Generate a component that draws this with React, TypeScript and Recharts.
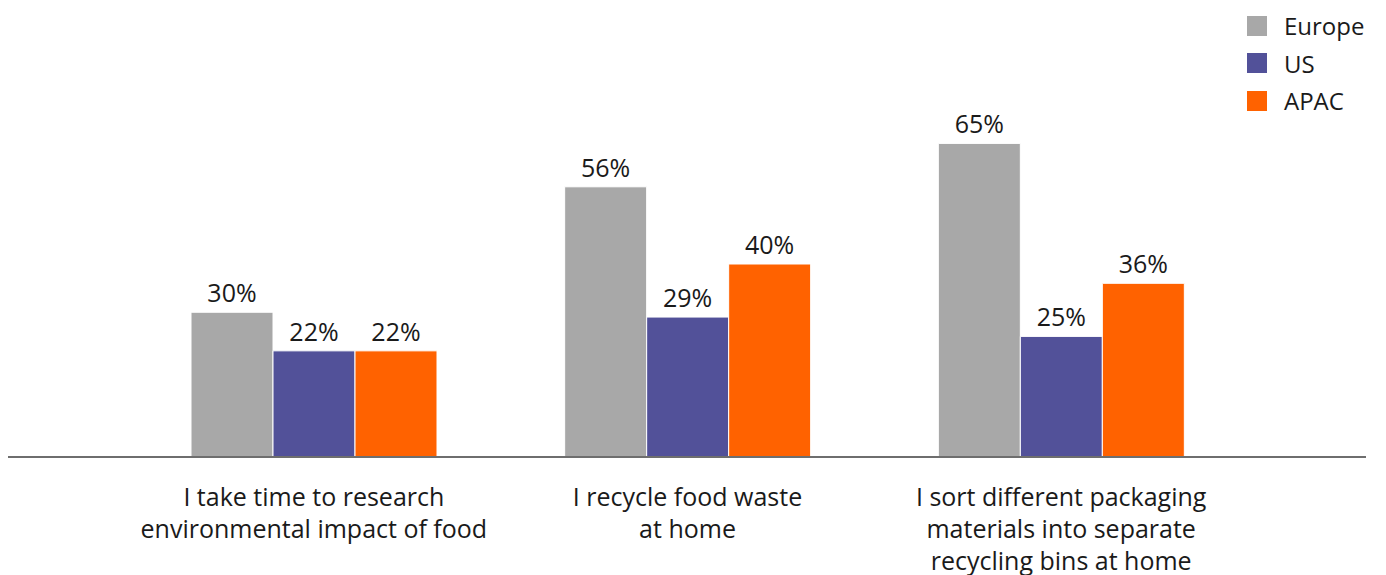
import { BarChart, Bar, XAxis, YAxis, LabelList } from 'recharts';

const categories = [
  'I take time to research\nenvironmental impact of food',
  'I recycle food waste\nat home',
  'I sort different packaging\nmaterials into separate\nrecycling bins at home',
];
const europe = [30, 56, 65];
const us = [22, 29, 25];
const apac = [22, 40, 36];

const seriesNames = ['Europe', 'US', 'APAC'];
const seriesColors = ['#A8A8A8', '#525199', '#FF6200'];

const data = categories.map((name, i) => ({
  name,
  Europe: europe[i],
  US: us[i],
  APAC: apac[i],
}));

const FONT = '"Open Sans", sans-serif';

function CategoryTick(props: any) {
  const { x, y, payload } = props;
  const lines = String(payload.value).split('\n');
  return (
    <g transform={`translate(${x},${y})`}>
      {lines.map((line: string, i: number) => (
        <text
          key={i}
          x={0}
          y={41 + i * 32}
          textAnchor="middle"
          fontSize={25}
          fontFamily={FONT}
          fill="#1a1a1a"
        >
          {line}
        </text>
      ))}
    </g>
  );
}

function Legend() {
  return (
    <div style={{ position: 'absolute', left: 1247, top: 7 }}>
      {seriesNames.map((name, i) => (
        <div
          key={name}
          style={{ display: 'flex', alignItems: 'center', height: 37.5 }}
        >
          <div
            style={{
              width: 20,
              height: 20,
              background: seriesColors[i],
              marginRight: 17,
            }}
          />
          <span
            style={{
              fontFamily: FONT,
              fontSize: 24,
              color: '#1a1a1a',
            }}
          >
            {name}
          </span>
        </div>
      ))}
    </div>
  );
}

export default function App() {
  return (
    <div style={{ position: 'absolute', left: 0, top: 0, width: 1386, height: 575, background: '#fff' }}>
      <BarChart
        width={1386}
        height={575}
        data={data}
        margin={{ top: 71, right: 20, left: 8, bottom: 88 }}
        barGap={0}
      >
        <XAxis
          dataKey="name"
          interval={0}
          padding={{ left: 119, right: 118 }}
          axisLine={{ stroke: '#6e6e6e', strokeWidth: 2 }}
          tickLine={false}
          tick={<CategoryTick />}
        />
        <YAxis hide domain={[0, 80]} />
        {seriesNames.map((name, i) => (
          <Bar
            key={name}
            dataKey={name}
            fill={seriesColors[i]}
            stroke="#ffffff"
            strokeWidth={1}
            barSize={82}
            isAnimationActive={false}
          >
            <LabelList
              dataKey={name}
              position="top"
              offset={10}
              formatter={(v: any) => `${v}%`}
              style={{ fontSize: 25, fontFamily: FONT, fill: '#1a1a1a' }}
            />
          </Bar>
        ))}
      </BarChart>
      <Legend />
    </div>
  );
}
